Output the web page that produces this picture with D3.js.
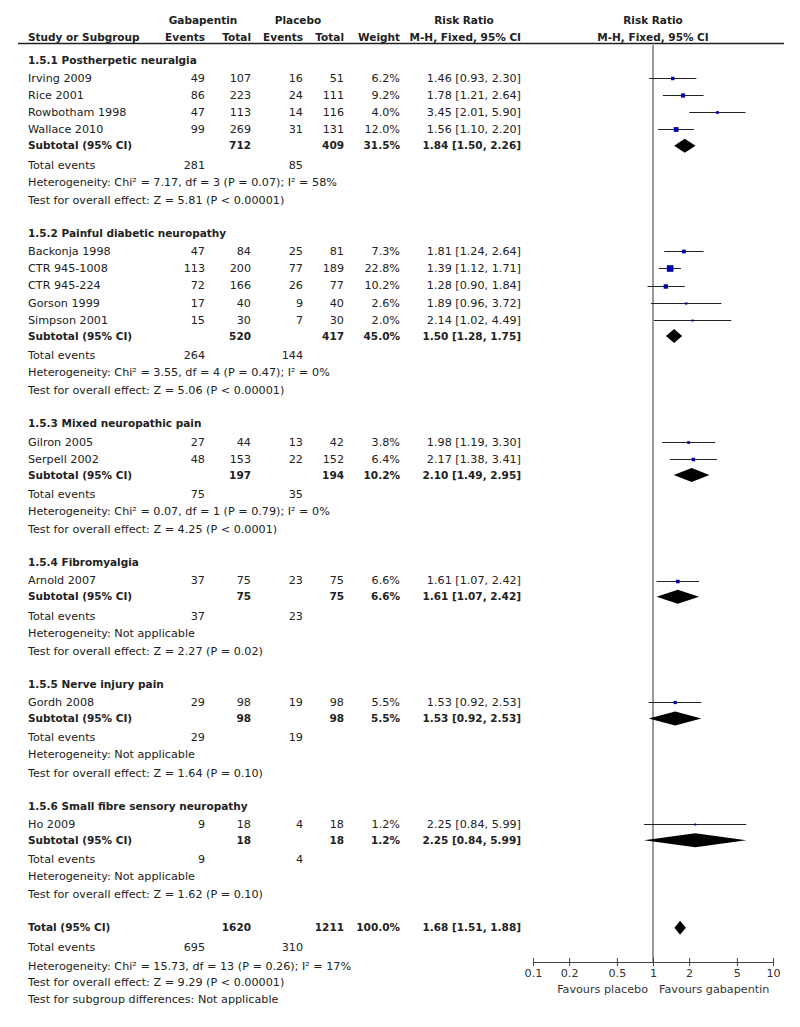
<!DOCTYPE html>
<html>
<head>
<meta charset="utf-8">
<script src="https://cdn.jsdelivr.net/npm/d3@7/dist/d3.min.js"></script>
<style>
  body { margin: 0; background: #fff; }
  svg { display: block; }
  text { font-family: "DejaVu Sans", Verdana, sans-serif; font-size: 11.2px; fill: #222; }
  .b { font-weight: bold; font-size: 10.5px; }
</style>
</head>
<body>
<svg id="chart" width="800" height="1027"></svg>
<script>
// ---------------- DATA ----------------
const groupTitles = [
  "1.5.1 Postherpetic neuralgia",
  "1.5.2 Painful diabetic neuropathy",
  "1.5.3 Mixed neuropathic pain",
  "1.5.4 Fibromyalgia",
  "1.5.5 Nerve injury pain",
  "1.5.6 Small fibre sensory neuropathy"
];
const studyNames = ["Irving 2009","Rice 2001","Rowbotham 1998","Wallace 2010",
  "Backonja 1998","CTR 945-1008","CTR 945-224","Gorson 1999","Simpson 2001",
  "Gilron 2005","Serpell 2002","Arnold 2007","Gordh 2008","Ho 2009"];
const studyGroup   = [0,0,0,0, 1,1,1,1,1, 2,2, 3, 4, 5];
const gabaEvents   = [49,86,47,99, 47,113,72,17,15, 27,48, 37, 29, 9];
const gabaTotal    = [107,223,113,269, 84,200,166,40,30, 44,153, 75, 98, 18];
const placEvents   = [16,24,14,31, 25,77,26,9,7, 13,22, 23, 19, 4];
const placTotal    = [51,111,116,131, 81,189,77,40,30, 42,152, 75, 98, 18];
const studyWeight  = [6.2,9.2,4.0,12.0, 7.3,22.8,10.2,2.6,2.0, 3.8,6.4, 6.6, 5.5, 1.2];
const studyRR      = [1.46,1.78,3.45,1.56, 1.81,1.39,1.28,1.89,2.14, 1.98,2.17, 1.61, 1.53, 2.25];
const studyLo      = [0.93,1.21,2.01,1.10, 1.24,1.12,0.90,0.96,1.02, 1.19,1.38, 1.07, 0.92, 0.84];
const studyHi      = [2.30,2.64,5.90,2.20, 2.64,1.71,1.84,3.72,4.49, 3.30,3.41, 2.42, 2.53, 5.99];

const subGabaTotal   = [712,520,197,75,98,18];
const subPlacTotal   = [409,417,194,75,98,18];
const subWeight      = [31.5,45.0,10.2,6.6,5.5,1.2];
const subRR          = [1.84,1.50,2.10,1.61,1.53,2.25];
const subLo          = [1.50,1.28,1.49,1.07,0.92,0.84];
const subHi          = [2.26,1.75,2.95,2.42,2.53,5.99];
const subEventsGaba  = [281,264,75,37,29,9];
const subEventsPlac  = [85,144,35,23,19,4];
const subHeterogeneity = [
  "Heterogeneity: Chi² = 7.17, df = 3 (P = 0.07); I² = 58%",
  "Heterogeneity: Chi² = 3.55, df = 4 (P = 0.47); I² = 0%",
  "Heterogeneity: Chi² = 0.07, df = 1 (P = 0.79); I² = 0%",
  "Heterogeneity: Not applicable",
  "Heterogeneity: Not applicable",
  "Heterogeneity: Not applicable"
];
const subOverall = [
  "Test for overall effect: Z = 5.81 (P < 0.00001)",
  "Test for overall effect: Z = 5.06 (P < 0.00001)",
  "Test for overall effect: Z = 4.25 (P < 0.0001)",
  "Test for overall effect: Z = 2.27 (P = 0.02)",
  "Test for overall effect: Z = 1.64 (P = 0.10)",
  "Test for overall effect: Z = 1.62 (P = 0.10)"
];

const totalGaba = 1620, totalPlac = 1211, totalWeight = 100.0;
const totalRR = 1.68, totalLo = 1.51, totalHi = 1.88;
const totalEventsGaba = 695, totalEventsPlac = 310;
const totalTexts = [
  "Heterogeneity: Chi² = 15.73, df = 13 (P = 0.26); I² = 17%",
  "Test for overall effect: Z = 9.29 (P < 0.00001)",
  "Test for subgroup differences: Not applicable"
];
const tickValues = [0.1, 0.2, 0.5, 1, 2, 5, 10];
const favoursLeft = "Favours placebo", favoursRight = "Favours gabapentin";

// ---------------- LAYOUT ----------------
const svg = d3.select("#chart");
const x = d3.scaleLog().domain([0.1, 10]).range([533, 773]);
const col = { label: 28, ge: 205, gt: 251, pe: 303, pt: 344, w: 400, rr: 521 };
const f2 = d3.format(".2f"), f1 = d3.format(".1f");
const rrText = (r, l, h) => `${f2(r)} [${f2(l)}, ${f2(h)}]`;

// build line list
const lines = [];
groupTitles.forEach((g, gi) => {
  lines.push({ type: "header", gi });
  studyNames.forEach((s, si) => { if (studyGroup[si] === gi) lines.push({ type: "study", si }); });
  lines.push({ type: "subtotal", gi });
  lines.push({ type: "events", gi });
  lines.push({ type: "het", gi });
  lines.push({ type: "test", gi });
});
lines.push({ type: "total" });
lines.push({ type: "tevents" });
lines.push({ type: "thet" });
lines.push({ type: "ttest" });
lines.push({ type: "tsub" });

const gapUnits = (a, b) => {
  if (b === "header" || b === "total") return 1.95;
  if (a === "header") return 1.05;
  if (a === "study" && b === "study") return 1.0;
  if (b === "subtotal") return 0.95;
  if (a === "subtotal") return 1.1;
  if (a === "events") return 1.0;
  if (a === "het") return 1.05;
  if (a === "total") return 1.15;
  if (a === "tevents") return 1.1;
  if (a === "thet") return 0.9;
  return 1.0;
};
let acc = 0;
lines.forEach((ln, i) => {
  if (i > 0) acc += gapUnits(lines[i - 1].type, ln.type);
  ln.u = acc;
});
const y = d3.scaleLinear().domain([0, 1]).range([60, 60 + 17.15]);

// ---------------- HEADER ----------------
const head = svg.append("g");
const ht = (txt, xx, yy, anchor) => head.append("text").attr("class", "b")
  .attr("x", xx).attr("y", yy).attr("dy", "0.35em").attr("text-anchor", anchor).text(txt);
ht("Gabapentin", 203, 20, "middle");
ht("Placebo", 298, 20, "middle");
ht("Risk Ratio", 464, 20, "middle");
ht("Risk Ratio", x(1), 20, "middle");
ht("Study or Subgroup", col.label, 37, "start");
ht("Events", col.ge, 37, "end");
ht("Total", col.gt, 37, "end");
ht("Events", col.pe, 37, "end");
ht("Total", col.pt, 37, "end");
ht("Weight", col.w, 37, "end");
ht("M-H, Fixed, 95% CI", col.rr, 37, "end");
ht("M-H, Fixed, 95% CI", x(1), 37, "middle");
head.append("line").attr("x1", 18).attr("x2", 784).attr("y1", 43.5).attr("y2", 43.5)
  .attr("stroke", "#222").attr("stroke-width", 1.3);

// ---------------- ROWS ----------------
const body = svg.append("g");
const tx = (txt, xx, yy, anchor, bold) => body.append("text").attr("class", bold ? "b" : null)
  .attr("x", xx).attr("y", yy).attr("dy", "0.35em").attr("text-anchor", anchor).text(txt);

const axisY = 962;
// vertical line of no effect
body.append("line").attr("x1", x(1)).attr("x2", x(1)).attr("y1", 45).attr("y2", axisY)
  .attr("stroke", "#333").attr("stroke-width", 1);

const diamond = (r, l, h, yy) => {
  const hh = 7;
  body.append("path")
    .attr("d", `M${x(l)},${yy}L${x(r)},${yy - hh}L${x(h)},${yy}L${x(r)},${yy + hh}Z`)
    .attr("fill", "#000");
};

lines.forEach(ln => {
  const yy = y(ln.u);
  switch (ln.type) {
    case "header": tx(groupTitles[ln.gi], col.label, yy, "start", true); break;
    case "study": {
      const i = ln.si;
      tx(studyNames[i], col.label, yy, "start");
      tx(gabaEvents[i], col.ge, yy, "end");
      tx(gabaTotal[i], col.gt, yy, "end");
      tx(placEvents[i], col.pe, yy, "end");
      tx(placTotal[i], col.pt, yy, "end");
      tx(f1(studyWeight[i]) + "%", col.w, yy, "end");
      tx(rrText(studyRR[i], studyLo[i], studyHi[i]), col.rr, yy, "end");
      body.append("line").attr("x1", x(studyLo[i])).attr("x2", x(studyHi[i]))
        .attr("y1", Math.round(yy) + 0.5).attr("y2", Math.round(yy) + 0.5)
        .attr("stroke", "#222").attr("stroke-width", 1);
      const s = Math.max(2, Math.sqrt(studyWeight[i]) * 1.38);
      body.append("rect").attr("x", x(studyRR[i]) - s / 2).attr("y", Math.round(yy) + 0.5 - s / 2)
        .attr("width", s).attr("height", s).attr("fill", "#0000a8");
      break;
    }
    case "subtotal": {
      const g = ln.gi;
      tx("Subtotal (95% CI)", col.label, yy, "start", true);
      tx(subGabaTotal[g], col.gt, yy, "end", true);
      tx(subPlacTotal[g], col.pt, yy, "end", true);
      tx(f1(subWeight[g]) + "%", col.w, yy, "end", true);
      tx(rrText(subRR[g], subLo[g], subHi[g]), col.rr, yy, "end", true);
      diamond(subRR[g], subLo[g], subHi[g], yy);
      break;
    }
    case "events":
      tx("Total events", col.label, yy, "start");
      tx(subEventsGaba[ln.gi], col.ge, yy, "end");
      tx(subEventsPlac[ln.gi], col.pe, yy, "end");
      break;
    case "het": tx(subHeterogeneity[ln.gi], col.label, yy, "start"); break;
    case "test": tx(subOverall[ln.gi], col.label, yy, "start"); break;
    case "total":
      tx("Total (95% CI)", col.label, yy, "start", true);
      tx(totalGaba, col.gt, yy, "end", true);
      tx(totalPlac, col.pt, yy, "end", true);
      tx(f1(totalWeight) + "%", col.w, yy, "end", true);
      tx(rrText(totalRR, totalLo, totalHi), col.rr, yy, "end", true);
      diamond(totalRR, totalLo, totalHi, yy);
      break;
    case "tevents":
      tx("Total events", col.label, yy, "start");
      tx(totalEventsGaba, col.ge, yy, "end");
      tx(totalEventsPlac, col.pe, yy, "end");
      break;
    case "thet": tx(totalTexts[0], col.label, yy, "start"); break;
    case "ttest": tx(totalTexts[1], col.label, yy, "start"); break;
    case "tsub": tx(totalTexts[2], col.label, yy, "start"); break;
  }
});

// ---------------- AXIS ----------------
const axisG = svg.append("g").attr("transform", `translate(0,${axisY})`)
  .call(d3.axisBottom(x).tickValues(tickValues).tickFormat(d => String(d)).tickSizeInner(4).tickSizeOuter(0).tickPadding(3));
axisG.select(".domain").attr("stroke", "#444");
axisG.selectAll(".tick line").attr("y1", -4).attr("y2", 4).attr("stroke", "#444");
axisG.selectAll(".tick text").attr("font-family", "DejaVu Sans, Verdana, sans-serif")
  .attr("font-size", 11.2).style("fill", "#333");
svg.append("text").attr("x", x(1) - 5).attr("y", axisY + 27).attr("dy", "0.35em")
  .attr("text-anchor", "end").style("fill", "#333").text(favoursLeft);
svg.append("text").attr("x", x(1) + 6).attr("y", axisY + 27).attr("dy", "0.35em")
  .attr("text-anchor", "start").style("fill", "#333").text(favoursRight);
</script>
</body>
</html>
